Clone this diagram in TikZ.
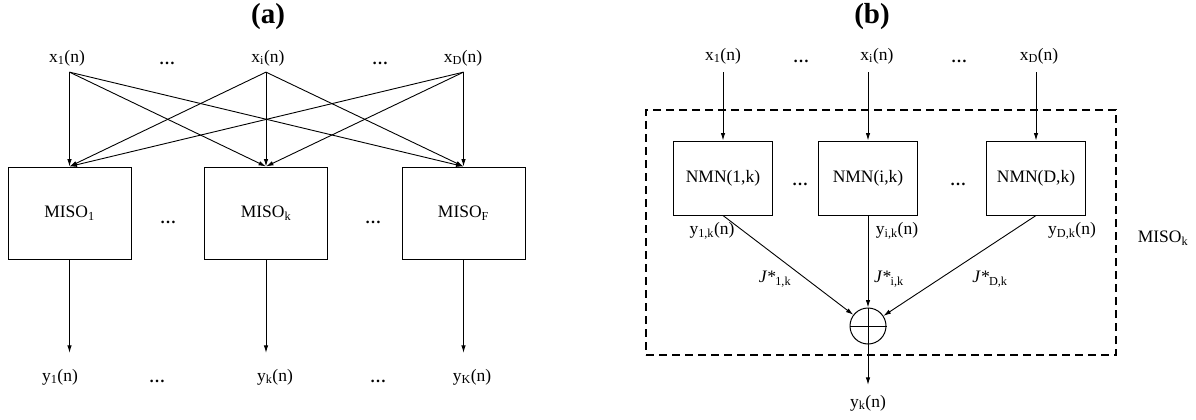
\documentclass[tikz,border=0pt]{standalone}
\usepackage{fontspec}
\setmainfont{Liberation Serif}
\usetikzlibrary{arrows.meta}
\begin{document}
\begin{tikzpicture}[x=1pt,y=-1pt,
  every node/.style={font=\fontsize{17.5}{20}\selectfont, inner sep=2pt},
  ttl/.style={font=\fontsize{29}{32}\selectfont\bfseries},
  dotsep/.style={font=\fontsize{16}{18}\selectfont\bfseries, inner sep=0pt},
  blk/.style={draw, line width=1pt, minimum width=123pt, minimum height=92pt},
  nmn/.style={draw, line width=1pt, minimum width=99pt, minimum height=74pt},
  conn/.style={line width=0.9pt, -{Latex[length=7.5pt,width=4.5pt]}},
  dashbox/.style={draw, line width=1.1pt, dash pattern=on 8pt off 5pt,
                  minimum width=470pt, minimum height=245pt, inner sep=0pt}]
\useasboundingbox (0,0) rectangle (1196,420);

% ---------------- (a) fully connected bank of MISO blocks ----------------
\node[ttl] (ta) at (268,17) {(a)};
\node (xa1) at (67,58) {x\textsubscript{1}(n)};
\node (xai) at (268,58) {x\textsubscript{i}(n)};
\node (xaD) at (463,58) {x\textsubscript{D}(n)};
\node[dotsep] (dxa1) at (167,63) {…};
\node[dotsep] (dxa2) at (380,63) {…};

\node[blk] (m1) at (69.5,213) {MISO\textsubscript{1}};
\node[blk] (mk) at (266,213) {MISO\textsubscript{k}};
\node[blk] (mF) at (463.5,213) {MISO\textsubscript{F}};
\node[dotsep] (dma1) at (168,222) {…};
\node[dotsep] (dma2) at (373,222) {…};

\coordinate (s1) at ([yshift=-4pt]xa1.south -| m1.north);
\coordinate (si) at ([yshift=-4pt]xai.south -| mk.north);
\coordinate (sD) at ([yshift=-4pt]xaD.south -| mF.north);
\foreach \s in {s1,si,sD}{
  \foreach \m in {m1,mk,mF}{
    \draw[conn] (\s) -- (\m.north);
  }
}

\node (ya1) at (60,377) {y\textsubscript{1}(n)};
\node (yak) at (275,377) {y\textsubscript{k}(n)};
\node (yaK) at (472,377) {y\textsubscript{K}(n)};
\node[dotsep] (dya1) at (157,381) {…};
\node[dotsep] (dya2) at (378,381) {…};
\draw[conn, shorten >=14pt] (m1.south) -- (m1.south |- ya1.north);
\draw[conn, shorten >=14pt] (mk.south) -- (mk.south |- yak.north);
\draw[conn, shorten >=14pt] (mF.south) -- (mF.south |- yaK.north);

% ---------------- (b) inner structure of one MISO block ----------------
\node[ttl] (tb) at (872,17) {(b)};
\node (xb1) at (723,56) {x\textsubscript{1}(n)};
\node (xbi) at (877,56) {x\textsubscript{i}(n)};
\node (xbD) at (1039,56) {x\textsubscript{D}(n)};
\node[dotsep] (dxb1) at (801,61) {…};
\node[dotsep] (dxb2) at (959,61) {…};

\node[dashbox] (misob) at (881,232.5) {};
\node (misol) at (1163,238) {MISO\textsubscript{k}};

\node[nmn] (n1) at (723,178) {NMN(1,k)};
\node[nmn] (ni) at (868,178) {NMN(i,k)};
\node[nmn] (nD) at (1036,178) {NMN(D,k)};
\node[dotsep] (dnb1) at (800,184) {…};
\node[dotsep] (dnb2) at (958,184) {…};

\draw[conn] ([yshift=-6pt]xb1.south -| n1.north) -- (n1.north);
\draw[conn] ([yshift=-6pt]xbi.south -| ni.north) -- (ni.north);
\draw[conn] ([yshift=-6pt]xbD.south -| nD.north) -- (nD.north);

\node[circle, draw, line width=1pt, minimum size=36pt, inner sep=0pt] (sum) at (868,326) {};
\draw[line width=1pt] (sum.west) -- (sum.east);
\draw[line width=1pt] (sum.north) -- (sum.south);

\draw[conn] (n1.south) -- (sum);
\draw[conn] (ni.south) -- (sum);
\draw[conn] (nD.south) -- (sum);

\node (y1k) at (712,231) {y\textsubscript{1,k}(n)};
\node (yik) at (897,231) {y\textsubscript{i,k}(n)};
\node (yDk) at (1072,231) {y\textsubscript{D,k}(n)};
\node (j1) at (775,279) {\textit{J*}\textsubscript{1,k}};
\node (ji) at (889,279) {\textit{J*}\textsubscript{i,k}};
\node (jD) at (990,279) {\textit{J*}\textsubscript{D,k}};

\node (ybk) at (868,403) {y\textsubscript{k}(n)};
\draw[conn, shorten >=8pt] (sum.south) -- (ybk.north);
\end{tikzpicture}
\end{document}
